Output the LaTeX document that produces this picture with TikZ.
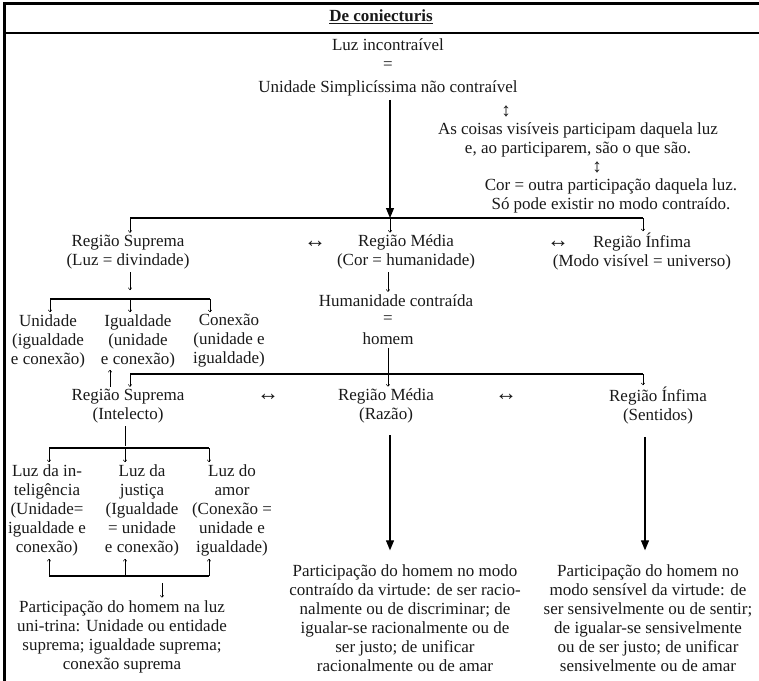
\documentclass[tikz,border=0pt]{standalone}
\usepackage{fontspec}
\setmainfont{Liberation Serif}
\usepackage{tikz}
\usetikzlibrary{arrows.meta, positioning, calc}

\newcommand{\tsize}{\fontsize{17}{19}\selectfont}
\newcommand{\gsize}{\fontsize{22}{22}\selectfont}
\newcommand{\udgsize}{\fontsize{19}{19}\selectfont}

\begin{document}
\begin{tikzpicture}[
    x=1pt, y=-1pt,
    txt/.style={font=\tsize, align=center, inner sep=0pt, text=black!90},
    glyph/.style={font=\gsize, inner sep=0pt, text=black!90},
    vglyph/.style={font=\udgsize, inner sep=0pt, text=black!90},
    bigarr/.style={-{Triangle[length=10pt,width=8pt]}, line width=1.1pt},
    bus/.style={line width=1.1pt},
    sarr/.style={-{To[length=2.5pt,width=4pt]}, line width=0.5pt},
    frame/.style={line width=2.5pt},
]
\useasboundingbox (0,0) rectangle (759,680);

% Frame and header
\draw[frame] (4.5,681) -- (4.5,3.5) -- (760,3.5);
\draw[line width=1.3pt] (4.5,33) -- (760,33);
\node[txt] (title) at (381,17) {\textbf{\underline{De coniecturis}}};

% Level 0: the light
\node[txt] (luz) at (388,45) {Luz incontraível};
\node[txt] (eqA) at (388,66) {=};
\node[txt] (uni) at (388,88) {Unidade Simplicíssima não contraível};
\node[vglyph] (udA) at (506,111) {↕};
\node[txt] (vis) at (578,140) {As coisas visíveis participam daquela luz\\e, ao participarem, são o que são.};
\node[vglyph] (udB) at (597,167) {↕};
\node[txt] (cor) at (611,196) {Cor = outra participação daquela luz.\\Só pode existir no modo contraído.};

% Level 1: three regions
\coordinate (busA) at (390,218);
\coordinate (busAl) at (130,218);
\coordinate (busAr) at (643,218);
\node[txt] (supA) at (128,252) {Região Suprema\\(Luz = divindade)};
\node[glyph] (lrA) at (315,244) {↔};
\node[txt] (medA) at (406,252) {Região Média\\(Cor = humanidade)};
\node[glyph] (lrB) at (558,244) {↔};
\node[txt] (infA) at (642,252) {Região Ínfima\\(Modo visível = universo)};

% Suprema: unity, equality, connection
\coordinate (busB) at (130,299);
\coordinate (busBl) at (50,299);
\coordinate (busBr) at (210,299);
\node[txt] (unid) at (48,341) {Unidade\\(igualdade\\e conexão)};
\node[txt] (igu) at (138,341) {Igualdade\\(unidade\\e conexão)};
\node[txt] (con) at (229,341) {Conexão\\(unidade e\\igualdade)};

% Media: man
\node[txt] (hum) at (396,301) {Humanidade contraída};
\node[txt] (eqB) at (388,320) {=};
\node[txt] (hom) at (388,339) {homem};

% Level 2: regions of man
\coordinate (busC) at (388,374);
\coordinate (busCl) at (130,374);
\coordinate (busCr) at (643,374);
\node[txt] (supB) at (128,406) {Região Suprema\\(Intelecto)};
\node[glyph] (lrC) at (268,397) {↔};
\node[txt] (medB) at (386,406) {Região Média\\(Razão)};
\node[glyph] (lrD) at (506,397) {↔};
\node[txt] (infB) at (658,406) {Região Ínfima\\(Sentidos)};

% Intelecto: three lights
\coordinate (busD) at (125,448);
\coordinate (busDl) at (49,448);
\coordinate (busDr) at (209,448);
\node[txt] (lint) at (47,510) {Luz da in-\\teligência\\(Unidade=\\igualdade e\\conexão)};
\node[txt] (ljus) at (142,510) {Luz da\\justiça\\(Igualdade\\= unidade\\e conexão)};
\node[txt] (lamo) at (232,510) {Luz do\\amor\\(Conexão =\\unidade e\\igualdade)};
\coordinate (busE) at (125,576);
\coordinate (busEl) at (49,576);
\coordinate (busEr) at (209,576);

% Participations
\node[txt] (phl) at (122,637) {Participação do homem na luz\\uni-trina: Unidade ou entidade\\suprema; igualdade suprema;\\conexão suprema};
\node[txt] (pm) at (405,618) {Participação do homem no modo\\contraído da virtude: de ser racio-\\nalmente ou de discriminar; de\\igualar-se racionalmente ou de\\ser justo; de unificar\\racionalmente ou de amar};
\node[txt] (ps) at (648,618) {Participação do homem no\\modo sensível da virtude: de\\ser sensivelmente ou de sentir;\\de igualar-se sensivelmente\\ou de ser justo; de unificar\\sensivelmente ou de amar};

% Connectors
\draw[bigarr, shorten <=4pt] (uni.south -| busA) -- (busA);
\draw[bus] (busAl) -- (busAr);
\draw[sarr, shorten >=2pt] (busAl) -- (busAl |- supA.north);
\draw[sarr, shorten >=2pt] (busA) -- (busA |- medA.north);
\draw[sarr, shorten >=2pt] (busAr) -- (busAr |- infA.north);

\draw[sarr, shorten <=3pt, shorten >=9pt] (supA.south -| busB) -- (busB);
\draw[bus] (busBl) -- (busBr);
\draw[sarr, shorten >=2pt] (busBl) -- (busBl |- unid.north);
\draw[sarr, shorten >=2pt] (busB) -- (busB |- igu.north);
\draw[sarr, shorten >=2pt] (busBr) -- (busBr |- con.north);

\draw[sarr, shorten <=3pt, shorten >=3pt] (medA.south -| busC) -- (busC |- hum.north);
\draw[line width=0.5pt, shorten <=3pt] (hom.south -| busC) -- (busC);
\draw[bus] (busCl) -- (busCr);
\draw[sarr, shorten >=2pt] (busCl) -- (busCl |- supB.north);
\draw[sarr, shorten >=2pt] (busC) -- (busC |- medB.north);
\draw[sarr, shorten >=2pt] (busCr) -- (busCr |- infB.north);
\draw[sarr, shorten <=2pt, shorten >=2pt] ([xshift=-18pt]supB.north) -- ([xshift=-18pt]supB.north |- igu.south);

\draw[line width=0.5pt, shorten <=3pt, shorten >=2pt] (supB.south -| busD) -- (busD);
\draw[bus] (busDl) -- (busDr);
\draw[sarr, shorten >=2pt] (busDl) -- (busDl |- lint.north);
\draw[sarr, shorten >=2pt] (busD) -- (busD |- ljus.north);
\draw[sarr, shorten >=2pt] (busDr) -- (busDr |- lamo.north);

\draw[bus] (busEl) -- (busEr);
\draw[sarr, shorten >=3pt] (busEl) -- (busEl |- lint.south);
\draw[sarr, shorten >=3pt] (busE) -- (busE |- ljus.south);
\draw[sarr, shorten >=3pt] (busEr) -- (busEr |- lamo.south);
\draw[sarr, shorten <=7pt, shorten >=3pt] (busE -| phl.north east) ++(-65,0) coordinate (dn) (dn) -- (dn |- phl.north);

\draw[bigarr, shorten <=12pt, shorten >=14pt] (medB.south -| 390,0) -- (pm.north -| 390,0);
\draw[bigarr, shorten <=12pt, shorten >=14pt] (infB.south -| 645,0) -- (ps.north -| 645,0);

\end{tikzpicture}
\end{document}
